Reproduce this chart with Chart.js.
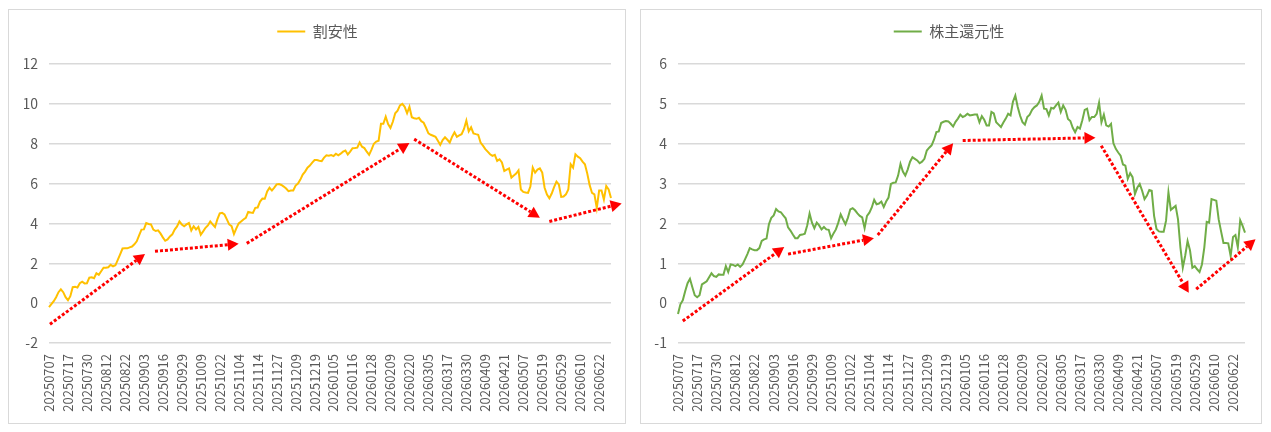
<!DOCTYPE html>
<html lang="ja">
<head>
<meta charset="utf-8">
<title>割安性・株主還元性</title>
<script src="https://cdn.jsdelivr.net/npm/chart.js@4.4.1/dist/chart.umd.min.js"></script>
<style>
  html, body { margin: 0; padding: 0; background: #fff; }
  body { width: 1271px; height: 432px; position: relative; overflow: hidden; }
  .panel { position: absolute; top: 9px; height: 413px; border: 1px solid #d9d9d9; background: #fff; }
  #panelLeft { left: 8px; width: 616px; }
  #panelRight { left: 640px; width: 620px; }
  canvas { display: block; }
</style>
</head>
<body>
<div class="panel" id="panelLeft"><canvas id="valueChart" width="616" height="413"></canvas></div>
<div class="panel" id="panelRight"><canvas id="returnChart" width="620" height="413"></canvas></div>

<script>
// 横軸の目盛りラベル(8営業日ごと)
const tickLabels = [
    '20250707', '20250717', '20250730', '20250812', '20250822', '20250903',
    '20250916', '20250929', '20251009', '20251022', '20251104', '20251114',
    '20251127', '20251209', '20251219', '20260105', '20260116', '20260128',
    '20260209', '20260220', '20260305', '20260317', '20260330', '20260409',
    '20260421', '20260507', '20260519', '20260529', '20260610', '20260622'
];
const TICK_STEP = 8;

// 割安性
const valueSeries = [
    -0.2, -0.05, 0.1, 0.3, 0.55, 0.69, 0.55, 0.3,
    0.15, 0.35, 0.8, 0.82, 0.78, 1.0, 1.08, 0.99,
    1.0, 1.28, 1.3, 1.25, 1.5, 1.42, 1.6, 1.78,
    1.78, 1.8, 1.92, 1.85, 1.9, 2.17, 2.45, 2.74,
    2.75, 2.75, 2.8, 2.84, 2.95, 3.1, 3.4, 3.69,
    3.7, 4.02, 3.97, 3.95, 3.69, 3.62, 3.65, 3.5,
    3.3, 3.13, 3.2, 3.35, 3.45, 3.69, 3.85, 4.1,
    3.95, 3.86, 3.95, 4.02, 3.65, 3.86, 3.7, 3.82,
    3.43, 3.6, 3.78, 3.9, 4.1, 3.95, 3.82, 4.2,
    4.5, 4.53, 4.45, 4.2, 3.95, 3.86, 3.47, 3.75,
    4.0, 4.1, 4.2, 4.28, 4.58, 4.55, 4.53, 4.78,
    4.8, 5.1, 5.25, 5.24, 5.6, 5.79, 5.65, 5.8,
    5.96, 5.98, 5.93, 5.85, 5.75, 5.62, 5.65, 5.65,
    5.9, 6.0, 6.2, 6.45, 6.6, 6.8, 6.9, 7.05,
    7.18, 7.18, 7.15, 7.13, 7.3, 7.42, 7.4, 7.43,
    7.38, 7.5, 7.42, 7.5, 7.6, 7.66, 7.46, 7.6,
    7.77, 7.78, 7.8, 8.06, 7.85, 7.78, 7.6, 7.44,
    7.7, 8.0, 8.11, 8.15, 9.0, 9.0, 9.36, 8.99,
    8.79, 9.1, 9.53, 9.66, 9.92, 10.0, 9.85, 9.53,
    9.85, 9.33, 9.28, 9.25, 9.3, 9.13, 9.05, 8.8,
    8.52, 8.45, 8.4, 8.35, 8.15, 7.94, 8.18, 8.32,
    8.2, 8.06, 8.35, 8.57, 8.35, 8.42, 8.48, 8.74,
    9.16, 8.62, 8.82, 8.52, 8.48, 8.45, 8.06, 7.9,
    7.73, 7.6, 7.47, 7.39, 7.44, 7.14, 7.22, 7.06,
    6.63, 6.7, 6.76, 6.3, 6.4, 6.5, 6.66, 5.7,
    5.58, 5.55, 5.53, 5.85, 6.8, 6.55, 6.7, 6.76,
    6.55, 5.79, 5.45, 5.26, 5.5, 5.82, 6.1, 5.96,
    5.33, 5.35, 5.46, 5.7, 6.97, 6.8, 7.47, 7.35,
    7.27, 7.1, 6.97, 6.5, 5.92, 5.53, 5.46, 4.78,
    5.65, 5.65, 5.2, 5.87, 5.7, 5.28
];

// 株主還元性
const returnSeries = [
    -0.27, -0.03, 0.07, 0.3, 0.5, 0.61, 0.4, 0.2,
    0.15, 0.2, 0.47, 0.51, 0.55, 0.65, 0.75, 0.68,
    0.66, 0.72, 0.71, 0.71, 0.93, 0.78, 0.97, 0.96,
    0.93, 0.97, 0.91, 0.97, 1.1, 1.23, 1.38, 1.35,
    1.33, 1.33, 1.38, 1.56, 1.6, 1.62, 1.98, 2.14,
    2.2, 2.36, 2.3, 2.28, 2.2, 2.13, 1.9, 1.82,
    1.72, 1.63, 1.63, 1.71, 1.72, 1.74, 1.95, 2.25,
    2.02, 1.88, 2.02, 1.95, 1.85, 1.91, 1.85, 1.84,
    1.63, 1.75, 1.85, 2.02, 2.23, 2.1, 1.98, 2.14,
    2.35, 2.38, 2.33, 2.25, 2.19, 2.15, 1.88, 2.19,
    2.27, 2.4, 2.59, 2.48, 2.5, 2.55, 2.41, 2.55,
    2.65, 2.99, 3.02, 3.03, 3.2, 3.49, 3.3, 3.2,
    3.35, 3.55, 3.66, 3.62, 3.58, 3.51, 3.55, 3.62,
    3.83, 3.9, 3.96, 4.1, 4.29, 4.31, 4.52, 4.55,
    4.57, 4.56, 4.5, 4.43, 4.55, 4.63, 4.73, 4.67,
    4.7, 4.75, 4.71, 4.72, 4.73, 4.73, 4.54, 4.69,
    4.6, 4.46, 4.46, 4.8, 4.76, 4.54, 4.48, 4.42,
    4.53, 4.63, 4.75, 4.71, 5.05, 5.21, 4.92, 4.7,
    4.54, 4.48, 4.67, 4.73, 4.85, 4.92, 4.96, 5.05,
    5.21, 4.88, 4.87, 4.71, 4.9, 4.88, 4.96, 5.03,
    4.8, 4.96, 4.85, 4.62, 4.57, 4.4, 4.29, 4.42,
    4.38, 4.59, 4.85, 4.88, 4.59, 4.67, 4.67, 4.75,
    5.03, 4.54, 4.73, 4.46, 4.43, 4.5, 4.01, 3.87,
    3.78, 3.7, 3.48, 3.45, 3.12, 3.26, 3.16, 2.74,
    2.9, 2.99, 2.82, 2.61, 2.7, 2.84, 2.82, 2.19,
    1.86, 1.8, 1.79, 1.79, 2.07, 2.78, 2.34, 2.39,
    2.44, 2.1, 1.4, 0.89, 1.19, 1.56, 1.33, 0.89,
    0.93, 0.85, 0.78, 0.97, 1.4, 2.04, 2.02, 2.61,
    2.59, 2.57, 2.1, 1.8, 1.51, 1.51, 1.5, 1.18,
    1.66, 1.71, 1.4, 2.08, 1.94, 1.77
];

// トレンド矢印 [始点の位置, 始点の値, 終点の位置, 終点の値]
const valueArrows = [
    [0.4, -1.06, 40.5, 2.47],
    [44.7, 2.6, 80, 2.98],
    [83.4, 3.0, 152, 8.03],
    [154, 8.23, 207, 4.29],
    [211, 4.1, 241.5, 5.0]
];
const returnArrows = [
    [2, -0.45, 44.4, 1.41],
    [46, 1.23, 81.9, 1.63],
    [83.5, 1.71, 115, 4.01],
    [119, 4.08, 174.5, 4.15],
    [176.9, 3.95, 213.5, 0.26],
    [216.6, 0.35, 241.4, 1.6]
];

const FONT = '"Noto Sans CJK JP", "Noto Sans", sans-serif';
const TEXT_COLOR = '#595959';

// 8点ごとに日付ラベル、それ以外は空
function buildLabels(n) {
    const labels = [];
    for (let i = 0; i < n; i++) {
        labels.push(i % TICK_STEP === 0 ? (tickLabels[i / TICK_STEP] || '') : '');
    }
    return labels;
}

// 赤い点線の矢印を描くプラグイン
const arrowPlugin = {
    id: 'trendArrows',
    afterDatasetsDraw(chart, args, opts) {
        const ctx = chart.ctx;
        const x = chart.scales.x;
        const y = chart.scales.y;
        ctx.save();
        ctx.strokeStyle = opts.color;
        ctx.fillStyle = opts.color;
        ctx.lineWidth = 3;
        opts.arrows.forEach(function(a) {
            const x0 = x.getPixelForValue(a[0]), y0 = y.getPixelForValue(a[1]);
            const x1 = x.getPixelForValue(a[2]), y1 = y.getPixelForValue(a[3]);
            const ang = Math.atan2(y1 - y0, x1 - x0);
            const head = 11, half = 6;
            const bx = x1 - head * Math.cos(ang), by = y1 - head * Math.sin(ang);
            ctx.setLineDash([3, 2]);
            ctx.beginPath();
            ctx.moveTo(x0, y0);
            ctx.lineTo(bx, by);
            ctx.stroke();
            ctx.setLineDash([]);
            ctx.beginPath();
            ctx.moveTo(x1, y1);
            ctx.lineTo(bx + half * Math.sin(ang), by - half * Math.cos(ang));
            ctx.lineTo(bx - half * Math.sin(ang), by + half * Math.cos(ang));
            ctx.closePath();
            ctx.fill();
        });
        ctx.restore();
    }
};

// cfg: 余白や軸幅など、パネルごとの配置
function makeChart(id, name, series, color, yMin, yMax, step, arrows, cfg) {
    const ctx = document.getElementById(id).getContext('2d');
    return new Chart(ctx, {
        type: 'line',
        data: {
            labels: buildLabels(series.length),
            datasets: [{
                label: name,
                data: series,
                borderColor: color,
                backgroundColor: color,
                borderWidth: 2,
                pointRadius: 0,
                tension: 0
            }]
        },
        options: {
            responsive: false,
            animation: false,
            devicePixelRatio: 1,
            layout: { padding: { top: 4, right: cfg.right, bottom: 0, left: cfg.left } },
            scales: {
                x: {
                    ticks: {
                        autoSkip: false,
                        maxRotation: 90,
                        minRotation: 90,
                        padding: 11,
                        color: TEXT_COLOR,
                        font: { family: FONT, size: 13 }
                    },
                    grid: { display: false, drawTicks: false },
                    border: { display: false },
                    afterFit: function(scale) {
                        scale.height = 80;
                        scale.paddingLeft = 0;
                        scale.paddingRight = 0;
                    }
                },
                y: {
                    min: yMin,
                    max: yMax,
                    ticks: {
                        stepSize: step,
                        padding: 11,
                        color: TEXT_COLOR,
                        font: { family: FONT, size: 14 }
                    },
                    grid: { color: '#d9d9d9', lineWidth: 1.5, drawTicks: false },
                    border: { display: false },
                    afterFit: function(scale) { scale.width = cfg.axisWidth; }
                }
            },
            plugins: {
                legend: {
                    position: 'top',
                    labels: {
                        usePointStyle: true,
                        pointStyle: 'line',
                        pointStyleWidth: 28,
                        color: TEXT_COLOR,
                        font: { family: FONT, size: 15 },
                        padding: 10
                    }
                },
                // 凡例とプロットの間の空き
                title: {
                    display: true,
                    text: '',
                    weight: 500,
                    font: { size: 10 },
                    padding: { top: 0, bottom: 3 }
                },
                tooltip: { enabled: false },
                trendArrows: { arrows: arrows, color: '#ff0000' }
            }
        },
        plugins: [arrowPlugin]
    });
}

makeChart('valueChart', '割安性', valueSeries, '#ffc000', -2, 12, 2, valueArrows,
    { left: 15, right: 14, axisWidth: 25 });
makeChart('returnChart', '株主還元性', returnSeries, '#70ad47', -1, 6, 1, returnArrows,
    { left: 12, right: 16, axisWidth: 25 });
</script>
</body>
</html>
